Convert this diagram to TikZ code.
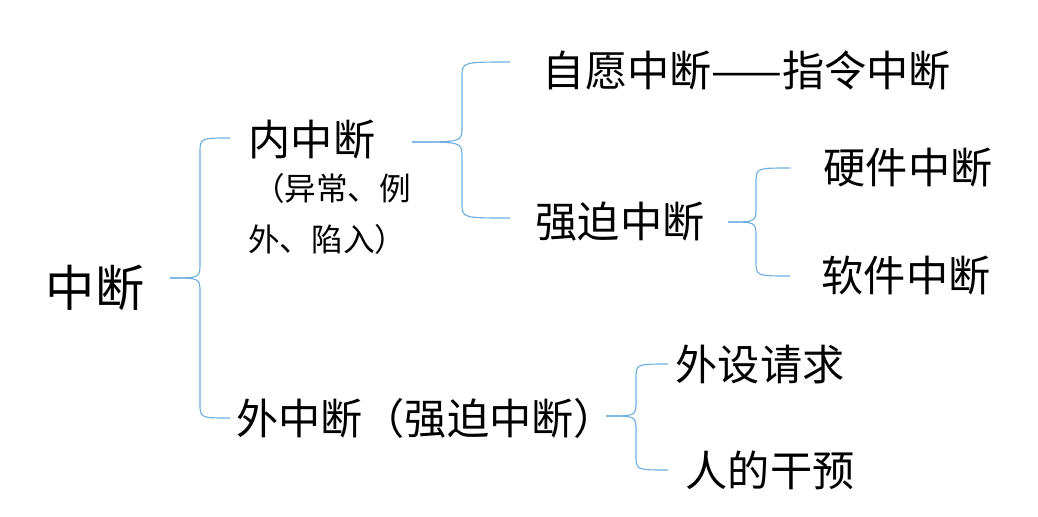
\documentclass[tikz,border=0pt]{standalone}
\usepackage{fontspec}
\setmainfont{Noto Sans CJK SC}
\definecolor{BraceBlue}{RGB}{110, 175, 225}
\usetikzlibrary{positioning, calc}
\begin{document}
\begin{tikzpicture}[x=0.025cm, y=-0.025cm,
        big/.style={font=\fontsize{35}{40}\selectfont, inner sep=0pt},
        item/.style={font=\fontsize{30}{36}\selectfont, inner sep=0pt},
        note/.style={font=\fontsize{22.5}{36}\selectfont, inner sep=0pt, align=left},
        brace/.style={draw=BraceBlue, line width=0.8pt}
    ]
        \useasboundingbox (0,0) rectangle (1038,516);
        % nodes
        \node [big] (root) at (95,288) {中断};
        \node [item] (inner) at (312,140) {内中断};
        \node [note, anchor=west] (innernote) at (248,214) {\hspace{0.15em}（异常、例\\外、陷入）};
        \node [item] (vol) at (747,70) {自愿中断——指令中断};
        \node [item] (forced) at (620,222) {强迫中断};
        \node [item] (hw) at (908,168) {硬件中断};
        \node [item] (sw) at (906,276) {软件中断};
        \node [item] (outer) at (426,418) {外中断（强迫中断）};
        \node [item] (dev) at (760,364) {外设请求};
        \node [item] (human) at (770,470) {人的干预};

        % braces
        \coordinate (t1) at (170,278);
        \draw [brace] (t1) .. controls (200,278) .. (200,263) -- (200,153) .. controls (200,138) .. (230,138);
        \draw [brace] (t1) .. controls (200,278) .. (200,293) -- (200,403) .. controls (200,418) .. (230,418);
        \coordinate (t2) at (412,142);
        \draw [brace] (t2) .. controls (462,142) .. (462,127) -- (462,77) .. controls (462,62) .. (510,62);
        \draw [brace] (t2) .. controls (462,142) .. (462,157) -- (462,203) .. controls (462,218) .. (510,218);
        \coordinate (t3) at (728,222);
        \draw [brace] (t3) .. controls (756,222) .. (756,207) -- (756,183) .. controls (756,168) .. (790,168);
        \draw [brace] (t3) .. controls (756,222) .. (756,237) -- (756,261) .. controls (756,276) .. (790,276);
        \coordinate (t4) at (606,416);
        \draw [brace] (t4) .. controls (636,416) .. (636,401) -- (636,379) .. controls (636,364) .. (668,364);
        \draw [brace] (t4) .. controls (636,416) .. (636,431) -- (636,455) .. controls (636,470) .. (668,470);
    \end{tikzpicture}
\end{document}
